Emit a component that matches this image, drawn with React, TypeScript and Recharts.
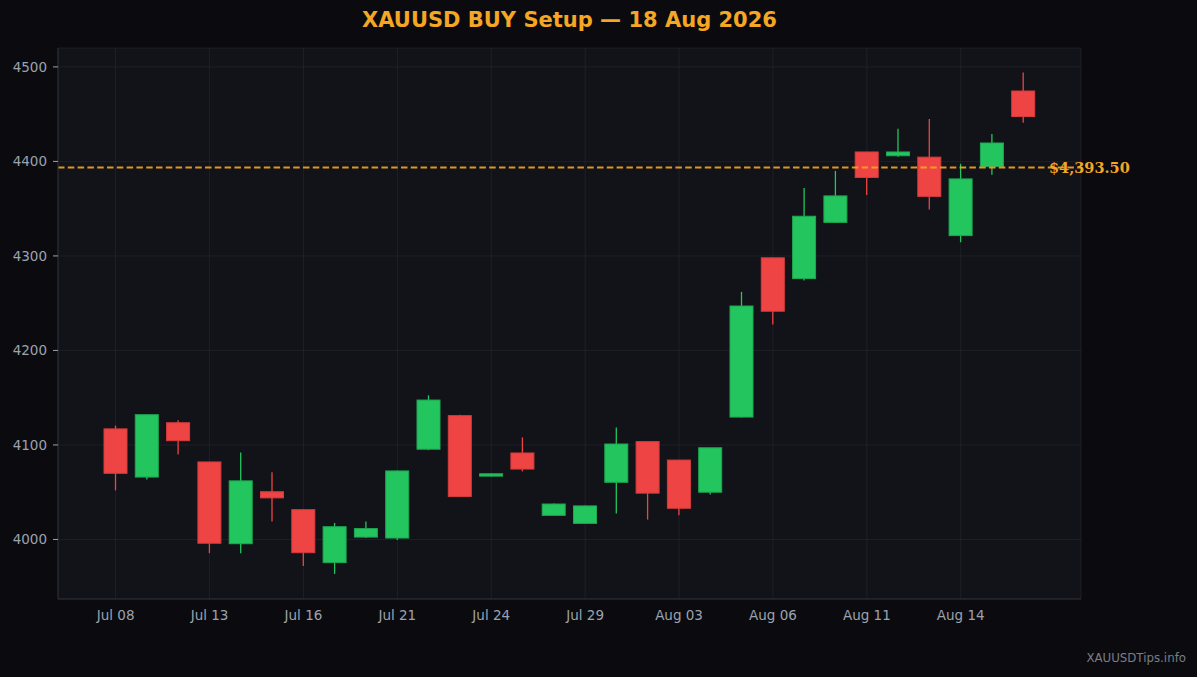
import {
  ComposedChart,
  Bar,
  XAxis,
  YAxis,
  CartesianGrid,
  ReferenceLine
} from 'recharts'

const dates = [
  'Jul 08', 'Jul 09', 'Jul 10', 'Jul 13', 'Jul 14', 'Jul 15', 'Jul 16', 'Jul 17', 'Jul 20', 'Jul 21',
  'Jul 22', 'Jul 23', 'Jul 24', 'Jul 27', 'Jul 28', 'Jul 29', 'Jul 30', 'Jul 31', 'Aug 03', 'Aug 04',
  'Aug 05', 'Aug 06', 'Aug 07', 'Aug 10', 'Aug 11', 'Aug 12', 'Aug 13', 'Aug 14', 'Aug 17', 'Aug 18'
]
const opens = [
  4117, 4066, 4123.5, 4082, 3995.5, 4050.5, 4031.5, 3975.5, 4002.5, 4001.5,
  4095.5, 4131, 4067, 4091.5, 4025.5, 4017, 4060.5, 4103.5, 4084, 4050,
  4129.5, 4298, 4276, 4335.5, 4410, 4406, 4404.5, 4321.5, 4394.5, 4474.5
]
const highs = [
  4120.5, 4132, 4126, 4082, 4092, 4071, 4031.5, 4017.5, 4019, 4073,
  4152.5, 4132, 4070, 4108, 4038, 4036, 4118.5, 4103.5, 4084, 4097,
  4262, 4298, 4372, 4390, 4410, 4434.5, 4445, 4397.5, 4429, 4494
]
const lows = [
  4052, 4063.5, 4090, 3985.5, 3985.5, 4019, 3972, 3963.5, 4001.5, 3999.5,
  4094.5, 4045, 4066.5, 4072, 4025, 4017, 4027.5, 4021, 4025.5, 4047.5,
  4129, 4227.5, 4274, 4335, 4364.5, 4405, 4349, 4314.5, 4386, 4441
]
const closes = [
  4070, 4132, 4104.5, 3996, 4062, 4044, 3986, 4013.5, 4011.5, 4072.5,
  4147.5, 4045.5, 4069.5, 4074.5, 4037.5, 4035.5, 4101, 4049, 4033, 4097,
  4247, 4241.5, 4342, 4363.5, 4383, 4410, 4363, 4381.5, 4419.5, 4447.5
]
const xTicks = ['Jul 08', 'Jul 13', 'Jul 16', 'Jul 21', 'Jul 24', 'Jul 29', 'Aug 03', 'Aug 06', 'Aug 11', 'Aug 14']
const yTicks = [4000, 4100, 4200, 4300, 4400, 4500]
const entryPrice = 4393.5

const UP = '#22c55e'
const DOWN = '#ef4444'

const data = dates.map((date, i) => ({
  date,
  open: opens[i],
  high: highs[i],
  low: lows[i],
  close: closes[i],
  range: [lows[i], highs[i]]
}))

const Candle = (props: any) => {
  const { x, y, width, height, payload } = props
  const { open, close, high, low } = payload
  const up = close >= open
  const color = up ? UP : DOWN
  const ppu = height / Math.max(high - low, 0.0001)
  const top = y + (high - Math.max(open, close)) * ppu
  const bottom = y + (high - Math.min(open, close)) * ppu
  const bodyH = Math.max(bottom - top, 2)
  const cx = x + width / 2
  return (
    <g>
      <line x1={cx} x2={cx} y1={y} y2={y + height} stroke={color} strokeWidth={1.3} />
      <rect
        x={x}
        y={top}
        width={width}
        height={bodyH}
        fill={color}
        stroke={up ? '#1ea852' : '#d63c3c'}
        strokeWidth={1}
      />
    </g>
  )
}

const EntryLabel = (props: any) => {
  const vb = props.viewBox
  return (
    <text
      x={vb.x + vb.width - 32}
      y={vb.y}
      dy={5}
      fill="#f5a623"
      fontSize={14.5}
      fontWeight="bold"
      fontFamily="DejaVu Serif"
    >
      ${entryPrice.toLocaleString('en-US', { minimumFractionDigits: 2 })}
    </text>
  )
}

export default function App() {
  return (
    <div
      style={{
        position: 'absolute',
        left: 0,
        top: 0,
        width: 1197,
        height: 677,
        background: '#0b0b0f',
        fontFamily: 'DejaVu Sans'
      }}
    >
      <div
        style={{
          position: 'absolute',
          left: 0,
          top: 6,
          width: 1139,
          textAlign: 'center',
          color: '#f5a623',
          fontSize: 21,
          fontWeight: 'bold',
          lineHeight: '28px'
        }}
      >
        XAUUSD BUY Setup — 18 Aug 2026
      </div>
      <ComposedChart
        width={1197}
        height={677}
        data={data}
        margin={{ top: 48, right: 116, left: 8, bottom: 48 }}
      >
        <CartesianGrid fill="#121318" horizontal={false} vertical={false} />
        <XAxis
          dataKey="date"
          ticks={xTicks}
          padding={{ left: 42, right: 42 }}
          height={30}
          tickLine={false}
          tickSize={5}
          tickMargin={6}
          axisLine={{ stroke: '#2c2d36' }}
          tick={{ fill: '#9ca3af', fontSize: 13.5 }}
        />
        <XAxis
          xAxisId="top"
          orientation="top"
          dataKey="date"
          height={0}
          tick={false}
          tickLine={false}
          axisLine={{ stroke: '#2c2d36' }}
        />
        <YAxis
          domain={[3937, 4520]}
          ticks={yTicks}
          width={50}
          tickSize={5}
          tickMargin={6}
          tickLine={{ stroke: '#9ca3af' }}
          axisLine={{ stroke: '#2c2d36' }}
          tick={{ fill: '#9ca3af', fontSize: 13.5 }}
        />
        <YAxis
          yAxisId="right"
          orientation="right"
          domain={[3937, 4520]}
          width={0}
          tick={false}
          tickLine={false}
          axisLine={{ stroke: '#2c2d36' }}
        />
        <Bar dataKey="range" barSize={23} shape={<Candle />} isAnimationActive={false} />
        <CartesianGrid stroke="rgba(60,62,72,0.3)" />
        <ReferenceLine
          y={entryPrice}
          stroke="#f5a623"
          strokeOpacity={0.9}
          strokeWidth={1.9}
          strokeDasharray="6.5 3.3"
          label={EntryLabel}
        />
      </ComposedChart>
      <div
        style={{
          position: 'absolute',
          right: 11,
          top: 651,
          color: '#7a7d86',
          fontSize: 11.8
        }}
      >
        XAUUSDTips.info
      </div>
    </div>
  )
}
